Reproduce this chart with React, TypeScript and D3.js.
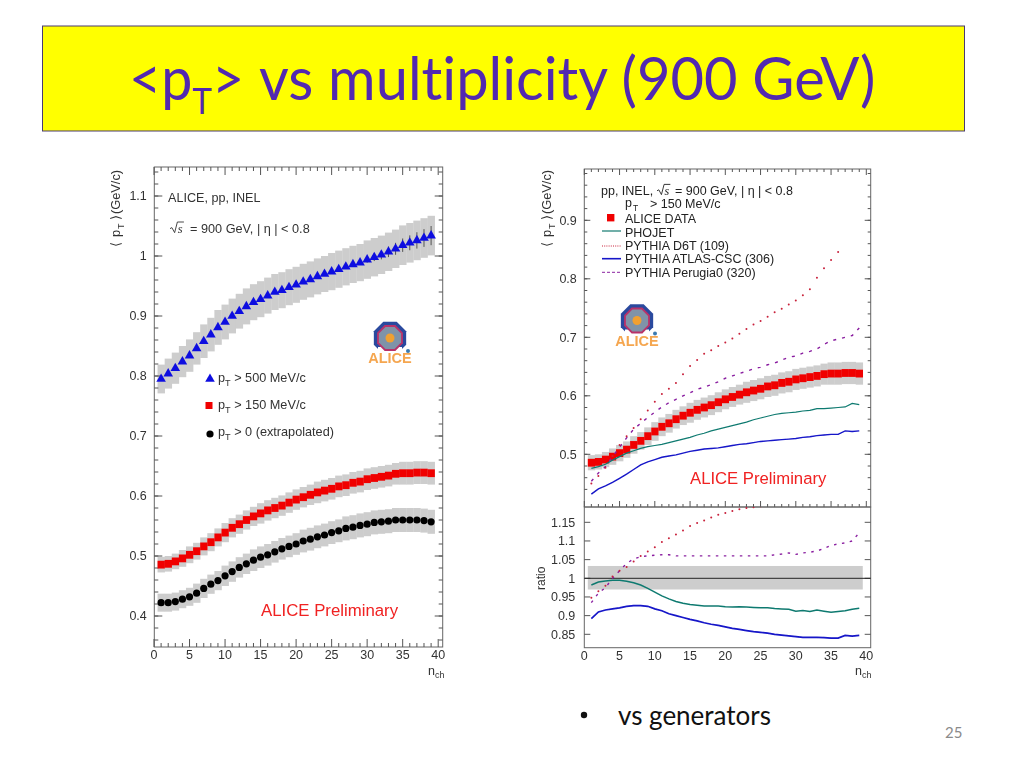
import React from "react";
import * as d3 from "d3";

const nch = d3.range(1, 40);
const blueVals = [.795,.804,.813,.824,.834,.846,.858,.869,.881,.89,.90,.908,.916,.923,.928,.934,.94,.943,.948,.952,.957,.961,.966,.97,.974,.978,.982,.986,.989,.994,.998,1.002,1.007,1.012,1.018,1.022,1.026,1.03,1.034];
const redVals = [.4856,.487,.491,.496,.502,.508,.516,.523,.531,.539,.547,.553,.56,.566,.571,.576,.58,.584,.589,.594,.598,.602,.606,.609,.612,.616,.618,.622,.624,.628,.63,.632,.634,.637,.638,.638,.639,.639,.638];
const blackVals = [.4222,.4222,.424,.428,.432,.438,.446,.453,.459,.467,.474,.481,.487,.493,.498,.502,.507,.512,.516,.52,.525,.528,.532,.535,.539,.542,.546,.548,.551,.553,.556,.557,.558,.56,.56,.56,.56,.559,.557];
const blueErr = [.024,.025,.026,.026,.027,.027,.028,.028,.029,.029,.029,.029,.03,.03,.03,.03,.03,.03,.03,.03,.03,.03,.03,.03,.031,.031,.031,.031,.031,.032,.032,.032,.032,.032,.033,.033,.033,.033,.033];
const redErr = [.013,.013,.013,.014,.014,.014,.015,.015,.015,.016,.016,.016,.016,.016,.017,.017,.017,.017,.017,.017,.017,.017,.018,.018,.018,.018,.018,.018,.018,.018,.018,.018,.018,.018,.019,.019,.019,.019,.019];
const blackErr = [.015,.015,.015,.015,.015,.016,.016,.016,.016,.017,.017,.017,.017,.018,.018,.018,.018,.018,.018,.018,.019,.019,.019,.019,.019,.019,.02,.02,.02,.02,.02,.02,.02,.02,.02,.02,.02,.02,.02];
const phojet = [.476,.479,.483,.49,.496,.502,.506,.51,.513,.515,.517,.52,.523,.526,.529,.533,.536,.54,.543,.546,.549,.552,.555,.559,.562,.565,.568,.57,.571,.572,.574,.575,.578,.578,.579,.58,.581,.587,.585];
const atlas = [.432,.441,.446,.452,.459,.466,.474,.482,.487,.491,.495,.497,.499,.502,.505,.507,.509,.51,.511,.513,.515,.517,.518,.52,.522,.523,.524,.525,.526,.527,.529,.53,.532,.533,.534,.534,.54,.539,.54];
const perugia = [.454,.468,.479,.496,.512,.528,.543,.553,.563,.572,.581,.588,.594,.6,.605,.611,.615,.619,.624,.63,.634,.638,.642,.646,.649,.653,.656,.661,.666,.668,.673,.676,.68,.688,.694,.697,.7,.703,.716];
const d6t = [.45,.463,.477,.497,.516,.531,.545,.56,.575,.59,.603,.612,.622,.637,.651,.661,.672,.678,.685,.691,.698,.706,.714,.722,.728,.735,.743,.749,.756,.763,.772,.782,.802,.818,.832,.846];
const rPhojet = [.982,.99,.993,.995,.995,.992,.988,.982,.973,.963,.953,.945,.938,.933,.93,.928,.926,.926,.926,.924,.923,.924,.923,.922,.921,.921,.919,.918,.917,.912,.914,.911,.915,.912,.909,.911,.913,.917,.92];
const rAtlas = [.892,.91,.915,.918,.921,.925,.927,.927,.925,.918,.913,.905,.9,.895,.89,.886,.881,.877,.874,.87,.866,.863,.86,.857,.855,.853,.85,.848,.846,.844,.842,.842,.842,.841,.84,.84,.847,.845,.847];
const rPerugia = [.935,.96,.975,1,1.02,1.04,1.052,1.058,1.06,1.062,1.063,1.063,1.06,1.06,1.06,1.06,1.06,1.06,1.06,1.06,1.06,1.06,1.06,1.06,1.06,1.06,1.063,1.065,1.068,1.064,1.068,1.07,1.073,1.08,1.088,1.092,1.095,1.1,1.122];
const rD6t = [.948,.965,.98,1.005,1.02,1.03,1.045,1.06,1.072,1.083,1.097,1.107,1.117,1.128,1.14,1.148,1.155,1.163,1.17,1.175,1.18,1.185,1.188,1.19,1.193];
const xTicks = [0,5,10,15,20,25,30,35,40];
const leftYTicks = [.4,.5,.6,.7,.8,.9,1,1.1];
const rightYTicks = [.5,.6,.7,.8,.9];
const ratioTicks = [.85,.9,.95,1,1.05,1.1,1.15];
const ratioBand = [.97,1.033];

const FONT = "'Liberation Sans', Arial, sans-serif";
const INK = "#333";

const xL = d3.scaleLinear().domain([0, 40]).range([154, 438.2]);
const yL = d3.scaleLinear().domain([.4, 1.1]).range([616, 196]);
const xR = d3.scaleLinear().domain([0, 40]).range([584.3, 866.3]);
const yR = d3.scaleLinear().domain([.5, .9]).range([454.3, 220.3]);
const yQ = d3.scaleLinear().domain([.85, 1.15]).range([634.3, 522.3]);

function Frame({ x, y, x0, x1, y0, y1, major, minor, xLabels, labelDy = 11.5, labelGap = 7.5, fs = 12.5, majorLen = 8, minorLen = 4, xt = true, top = true }: any) {
  const xs = d3.range(0, 41);
  return (
    <g stroke="#555" strokeWidth={1} fill="none">
      <rect x={x0} y={y0} width={x1 - x0} height={y1 - y0} stroke="#666" />
      {xt && xs.map((t) => {
        const len = t % 5 === 0 ? majorLen : minorLen;
        return (
          <g key={t}>
            <line x1={x(t)} x2={x(t)} y1={y1} y2={y1 - len} />
            {top && <line x1={x(t)} x2={x(t)} y1={y0} y2={y0 + len} />}
          </g>
        );
      })}
      {minor.map((t: number) => (
        <g key={"m" + t}>
          <line x1={x0} x2={x0 + minorLen} y1={y(t)} y2={y(t)} />
          <line x1={x1} x2={x1 - minorLen} y1={y(t)} y2={y(t)} />
        </g>
      ))}
      {major.map((t: number) => (
        <g key={"M" + t}>
          <line x1={x0} x2={x0 + majorLen} y1={y(t)} y2={y(t)} />
          <line x1={x1} x2={x1 - majorLen} y1={y(t)} y2={y(t)} />
          <text x={x0 - labelGap} y={y(t) + 4.4} textAnchor="end" fill={INK} stroke="none" fontSize={fs}>
            {String(t)}
          </text>
        </g>
      ))}
      {xLabels &&
        xTicks.map((t) => (
          <text key={"x" + t} x={x(t)} y={y1 + labelDy} textAnchor="middle" fill={INK} stroke="none" fontSize={fs}>
            {t}
          </text>
        ))}
    </g>
  );
}

function Logo({ cx, cy }: { cx: number; cy: number }) {
  const oct = (r: number) =>
    d3.range(8).map((i) => {
      const a = Math.PI / 8 + (i * Math.PI) / 4;
      return [cx + r * Math.cos(a), cy + r * Math.sin(a)].join(",");
    }).join(" ");
  return (
    <g>
      <polygon points={oct(17.5)} fill="#2b4a9e" />
      <rect x={cx - 12} y={cy + 9} width={24} height={10} fill="#fff" />
      <polygon points={oct(14)} fill="#b8336a" />
      <polygon points={oct(12)} fill="#7f93a8" />
      <circle cx={cx} cy={cy} r={4.5} fill="#f0a030" />
      <circle cx={cx + 18} cy={cy + 13} r={2} fill="#3a7ab0" />
      <text x={cx} y={cy + 25} textAnchor="middle" fontFamily={FONT} fontWeight={700} fontSize={14.5} fill="#f5a650">ALICE</text>
    </g>
  );
}

function Pt({ x, y, size, tail }: any) {
  return (
    <text x={x} y={y} fontSize={size} fill={INK}>
      p<tspan dy={4} fontSize={size * 0.72}>T</tspan>
      <tspan dy={-4}>{tail}</tspan>
    </text>
  );
}

function Sqrt({ x, y, size, color = INK }: any) {
  return (
    <g fill={color}>
      <path d={`M${x},${y - size * 0.35} l${size * 0.15},-1 l${size * 0.22},${size * 0.4} l${size * 0.22},${-size * 0.85} h${size * 0.52}`} fill="none" stroke={color} strokeWidth={0.9} />
      <text x={x + size * 0.62} y={y} fontFamily="'Liberation Serif', serif" fontStyle="italic" fontSize={size}>s</text>
    </g>
  );
}

function YTitle({ x, y }: any) {
  return (
    <g transform={`translate(${x},${y}) rotate(-90)`} fill={INK} fontSize={12.8}>
      <text x={0} y={0}>⟨</text>
      <text x={10} y={0}>p</text>
      <text x={18} y={4} fontSize={9}>T</text>
      <text x={27} y={0}>⟩</text>
      <text x={33} y={0}>(GeV/c)</text>
    </g>
  );
}

function Nch({ x, y }: any) {
  return <text x={x} y={y} fontSize={12.5} fill={INK}>n<tspan dy={3} fontSize={9}>ch</tspan></text>;
}

function Band({ x, y, vals, errs }: any) {
  const w = x(1) - x(0);
  return (
    <g fill="#cdcdcd">
      {vals.map((v: number, i: number) => (
        <rect key={i} x={x(nch[i]) - w / 2} width={w + 0.3} y={y(v + errs[i])} height={y(v - errs[i]) - y(v + errs[i])} />
      ))}
    </g>
  );
}

function Curve({ x, y, vals, ...rest }: any) {
  const line = d3.line<number>().x((_, i) => x(nch[i])).y((v) => y(v));
  return <path d={line(vals) || ""} fill="none" {...rest} />;
}

function Dots({ x, y, vals, color }: any) {
  return (
    <g fill={color}>
      {vals.map((v: number, i: number) => (
        <circle key={i} cx={x(nch[i])} cy={y(v)} r={1} />
      ))}
    </g>
  );
}

function RedSquares({ x, y, vals }: any) {
  const w = x(1) - x(0);
  return (
    <g fill="#f00000">
      {vals.map((v: number, i: number) => (
        <rect key={i} x={x(nch[i]) - w / 2} width={w + 0.2} y={y(v) - 3.9} height={7.8} />
      ))}
    </g>
  );
}

const triangle = d3.symbol().type(d3.symbolTriangle).size(40);
const D6T = "#c8203a";
const PER = "#8a1fa0";
const PHO = "#0f7a70";
const ATL = "#1414c8";
const LEG = "#222";

export default function App() {
  return (
    <svg width={1024} height={768} style={{ position: "absolute", left: 0, top: 0, background: "#fff" }} fontFamily={FONT}>
      <defs>
        <clipPath id="q"><rect x={584} y={507} width={287} height={141} /></clipPath>
        <filter id="soft"><feGaussianBlur stdDeviation={0.35} /></filter>
      </defs>

      <rect x={42.5} y={26} width={922} height={105} fill="#ffff00" stroke="#4a3a70" strokeWidth={1} />
      <g fontFamily="Lato, 'Open Sans', sans-serif" fontSize={60} fill="#5229b0" style={{ fontVariantLigatures: "none" }}>
        <g transform="translate(129,100) scale(0.925,1)">
          <text x={0} y={0}>&lt;p<tspan dy={14} fontSize={36}>T</tspan><tspan dy={-14}>&gt;</tspan></text>
        </g>
        <g transform="translate(259,100) scale(0.964,1)">
          <text x={0} y={0}>vs multiplicity (900 GeV)</text>
        </g>
      </g>

      <g filter="url(#soft)">
        {/* left panel */}
        <Band x={xL} y={yL} vals={blueVals} errs={blueErr} />
        <Band x={xL} y={yL} vals={redVals} errs={redErr} />
        <Band x={xL} y={yL} vals={blackVals} errs={blackErr} />
        <Frame x={xL} y={yL} x0={154.3} x1={442.7} y0={167} y1={647} major={leftYTicks} minor={d3.range(18, 58, 1).map((k) => k * 0.02).filter((t) => t > 0.35 && t < 1.15)} xLabels />
        <g stroke="#333" strokeWidth={0.8}>
          {blueVals.slice(28).map((v, i) => (
            <line key={i} x1={xL(nch[i + 28])} x2={xL(nch[i + 28])} y1={yL(v + 0.004 + i * 0.0012)} y2={yL(v - 0.004 - i * 0.0012)} />
          ))}
        </g>
        <g fill="#1010e0">
          {blueVals.map((v, i) => (
            <path key={i} d={triangle() || ""} transform={`translate(${xL(nch[i])},${yL(v)})`} />
          ))}
        </g>
        <RedSquares x={xL} y={yL} vals={redVals} />
        <g fill="#000">
          {blackVals.map((v, i) => (
            <circle key={i} cx={xL(nch[i])} cy={yL(v)} r={3.6} />
          ))}
        </g>
        <text x={168} y={202} fontSize={12.6} fill={INK}>ALICE, pp, INEL</text>
        <Sqrt x={170} y={233} size={12.5} />
        <text x={190} y={233} fontSize={12.7} fill={INK}>= 900 GeV, |  η | &lt; 0.8</text>
        <path d={triangle() || ""} transform="translate(210,379)" fill="#1010e0" />
        <Pt x={218} y={382} size={12.7} tail=" > 500 MeV/c" />
        <rect x={205.5} y={402} width={7} height={7} fill="#f00000" />
        <Pt x={218} y={409} size={12.7} tail=" > 150 MeV/c" />
        <circle cx={210} cy={434} r={3.6} fill="#000" />
        <Pt x={218} y={436} size={12.7} tail=" > 0 (extrapolated)" />
        <text x={261} y={616} fontSize={16.8} fill="#f02020">ALICE Preliminary</text>
        <Logo cx={390} cy={338} />
        <YTitle x={120} y={247} />
        <Nch x={428} y={675} />

        {/* right panel top */}
        <Band x={xR} y={yR} vals={redVals} errs={redErr} />
        <RedSquares x={xR} y={yR} vals={redVals} />
        <Frame x={xR} y={yR} x0={584.3} x1={870.7} y0={169} y1={507} major={rightYTicks} minor={d3.range(22, 50).map((k) => k * 0.02)} majorLen={6} minorLen={3} />
        <Curve x={xR} y={yR} vals={phojet} stroke={PHO} strokeWidth={1.2} />
        <Curve x={xR} y={yR} vals={atlas} stroke={ATL} strokeWidth={1.4} />
        <Curve x={xR} y={yR} vals={perugia} stroke={PER} strokeWidth={1.4} strokeDasharray="3 6" />
        <Dots x={xR} y={yR} vals={d6t} color={D6T} />
        <text x={601} y={195} fontSize={12.5} fill={LEG}>pp, INEL,</text>
        <Sqrt x={657} y={195} size={12} color={LEG} />
        <text x={675} y={195} fontSize={12.5} fill={LEG}>= 900 GeV, | η | &lt; 0.8</text>
        <text x={625} y={207} fontSize={12.5} fill={LEG}>p</text>
        <text x={633} y={211} fontSize={8.5} fill={LEG}>T</text>
        <text x={650} y={207.5} fontSize={12.5} fill={LEG}>&gt; 150 MeV/c</text>
        <rect x={607} y={214} width={7.4} height={7.4} fill="#f00000" />
        <text x={625} y={223} fontSize={12.5} fill={LEG}>ALICE DATA</text>
        <line x1={602} x2={621} y1={231} y2={231} stroke={PHO} strokeWidth={1.2} />
        <text x={625} y={236.5} fontSize={12.5} fill={LEG}>PHOJET</text>
        <line x1={602} x2={621} y1={246} y2={246} stroke={D6T} strokeWidth={1} strokeDasharray="1 1.2" />
        <text x={625} y={250} fontSize={12.5} fill={LEG}>PYTHIA D6T (109)</text>
        <line x1={602} x2={621} y1={258.7} y2={258.7} stroke={ATL} strokeWidth={1.6} />
        <text x={625} y={263} fontSize={12.5} fill={LEG}>PYTHIA ATLAS-CSC (306)</text>
        <line x1={602} x2={621} y1={272.3} y2={272.3} stroke={PER} strokeWidth={1} strokeDasharray="3 2" />
        <text x={625} y={276.5} fontSize={12.5} fill={LEG}>PYTHIA Perugia0 (320)</text>
        <text x={690} y={483.5} fontSize={16.7} fill="#f02020">ALICE Preliminary</text>
        <Logo cx={637} cy={320.5} />
        <YTitle x={551} y={247} />

        {/* ratio panel */}
        <rect x={xR(0.5)} width={xR(39.5) - xR(0.5)} y={yQ(ratioBand[1])} height={yQ(ratioBand[0]) - yQ(ratioBand[1])} fill="#cdcdcd" />
        <Frame x={xR} y={yQ} x0={584.3} x1={870.7} y0={507} y1={647.7} major={ratioTicks} minor={[]} xLabels labelDy={12.5} labelGap={9} majorLen={6} xt={false} />
        <line x1={xR(0)} x2={870.7} y1={yQ(1)} y2={yQ(1)} stroke="#222" strokeWidth={1} />
        <g clipPath="url(#q)">
          <Curve x={xR} y={yQ} vals={rPhojet} stroke={PHO} strokeWidth={1.5} />
          <Curve x={xR} y={yQ} vals={rAtlas} stroke={ATL} strokeWidth={1.7} />
          <Curve x={xR} y={yQ} vals={rPerugia} stroke={PER} strokeWidth={1.4} strokeDasharray="2.5 5.5" />
          <Dots x={xR} y={yQ} vals={rD6t} color={D6T} />
        </g>
        <text transform="translate(545,590) rotate(-90)" fontSize={12} fill={INK}>ratio</text>
        <Nch x={855} y={675} />
      </g>

      <circle cx={584} cy={715} r={3.2} fill="#111" />
      <text x={618} y={725} fontFamily="Lato, sans-serif" fontSize={26} fill="#111">vs generators</text>
      <text x={945} y={738} fontFamily="Lato, sans-serif" fontSize={15} fill="#8a8a8a">25</text>
    </svg>
  );
}
